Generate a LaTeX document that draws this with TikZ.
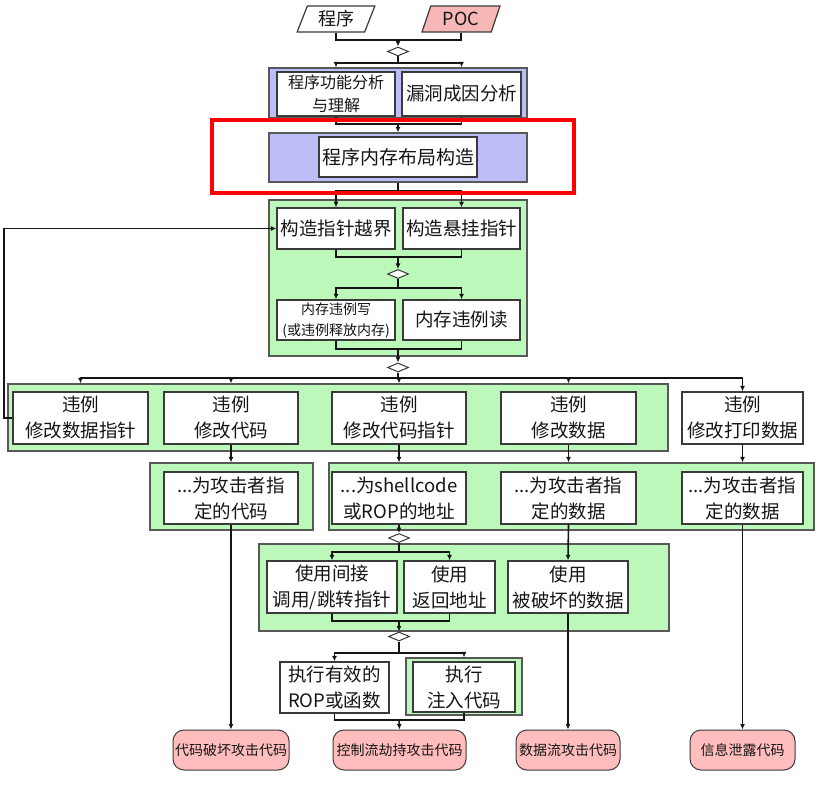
\documentclass[tikz,border=0pt]{standalone}
\usepackage{fontspec}
\setmainfont{Noto Sans CJK SC}
\usetikzlibrary{arrows.meta,shapes.geometric}
\definecolor{ink}{HTML}{151515}
\definecolor{edge}{HTML}{3A3A3A}
\definecolor{panelgreen}{HTML}{BCF8B9}
\definecolor{panelpurple}{HTML}{BDBDF8}
\definecolor{termpink}{HTML}{FFBDBD}
\definecolor{inpink}{HTML}{F7B7B7}
\definecolor{hlred}{HTML}{FF0000}
\tikzset{
  >={Latex[length=5.5pt,width=5pt]},
  every node/.style={text=ink},
  big/.style={font=\fontsize{18.5}{26}\selectfont},
  box/.style={draw=edge,line width=1.2pt,fill=white,align=center,inner sep=0pt,big},
  gpanel/.style={draw=edge!85,line width=1.2pt,fill=panelgreen,inner sep=0pt},
  ppanel/.style={gpanel,fill=panelpurple},
  term/.style={draw=edge,line width=1pt,fill=termpink,rounded corners=11pt,minimum height=40pt,inner sep=0pt,font=\fontsize{14}{16}\selectfont},
  iobox/.style={trapezium,trapezium left angle=69,trapezium right angle=111,trapezium stretches=true,draw=edge,line width=1.2pt,fill=white,minimum height=26pt,inner sep=0pt,font=\fontsize{18}{20}\selectfont},
  merge/.style={diamond,draw=edge,line width=1pt,fill=white,minimum width=21pt,minimum height=9pt,inner sep=0pt},
  link/.style={draw=ink,line width=1.6pt},
  arrow/.style={->,link},
  highlight/.style={draw=hlred,line width=4pt,minimum width=362pt,minimum height=73pt,inner sep=0pt},
}

\begin{document}
\begin{tikzpicture}[x=1pt,y=-1pt]
\useasboundingbox (0,0) rectangle (827,786);

\node[iobox,minimum width=78pt] (prog) at (336,19) {程序};
\node[iobox,minimum width=78pt,fill=inpink] (poc) at (461,19) {POC};
\node[merge] (d1) at (398,51.5) {};

\node[ppanel,minimum width=258pt,minimum height=50pt] (pp1) at (398,93) {};
\node[box,font=\fontsize{16}{23}\selectfont,minimum width=118pt,minimum height=44pt] (func) at (336,94) {程序功能分析\\与理解};
\node[box,minimum width=119pt,minimum height=44pt] (cause) at (461.5,94) {漏洞成因分析};

\node[ppanel,minimum width=258pt,minimum height=49pt] (pp2) at (398,157.5) {};
\node[box,font=\fontsize{19}{24}\selectfont,minimum width=158pt,minimum height=40pt] (layout) at (398,157) {程序内存布局构造};

\node[gpanel,minimum width=258pt,minimum height=156pt] (gp1) at (398,278) {};
\node[box,minimum width=118pt,minimum height=41pt] (ptrA) at (336,228.5) {构造指针越界};
\node[box,minimum width=117pt,minimum height=41pt] (ptrB) at (461.5,228.5) {构造悬挂指针};
\node[merge] (d2) at (398,274) {};
\node[box,font=\fontsize{14}{21}\selectfont,minimum width=118pt,minimum height=40pt] (wr) at (336,320) {内存违例写\\(或违例释放内存)};
\node[box,minimum width=117pt,minimum height=40pt] (rd) at (461.5,320) {内存违例读};
\node[merge] (d3) at (398,367.5) {};

\node[gpanel,minimum width=660pt,minimum height=67pt] (gp3) at (338,417.5) {};
\node[box,minimum width=135pt,minimum height=52pt] (v1) at (80.5,418) {违例\\修改数据指针};
\node[box,minimum width=134pt,minimum height=52pt] (v2) at (231,418) {违例\\修改代码};
\node[box,minimum width=134pt,minimum height=52pt] (v3) at (399,418) {违例\\修改代码指针};
\node[box,minimum width=135pt,minimum height=52pt] (v4) at (568.5,418) {违例\\修改数据};
\node[box,minimum width=121pt,minimum height=52pt] (v5) at (742.5,418) {违例\\修改打印数据};

\node[gpanel,minimum width=163pt,minimum height=67pt] (gp5) at (231.5,496.5) {};
\node[gpanel,minimum width=485pt,minimum height=67pt] (gp4) at (571.5,496.5) {};
\node[box,minimum width=134pt,minimum height=52pt] (c1) at (231,498) {...为攻击者指\\定的代码};
\node[box,minimum width=134pt,minimum height=52pt] (c2) at (399,498) {...为shellcode\\或ROP的地址};
\node[box,minimum width=135pt,minimum height=52pt] (c3) at (568.5,498) {...为攻击者指\\定的数据};
\node[box,minimum width=121pt,minimum height=52pt] (c4) at (742.5,498) {...为攻击者指\\定的数据};
\node[merge] (d4) at (399,538) {};

\node[gpanel,minimum width=410pt,minimum height=87pt] (gp6) at (464,587.5) {};
\node[box,minimum width=130pt,minimum height=52pt] (u1) at (332,587) {使用间接\\调用/跳转指针};
\node[box,minimum width=91pt,minimum height=52pt] (u2) at (449.5,587) {使用\\返回地址};
\node[box,minimum width=120pt,minimum height=52pt] (u3) at (568,587) {使用\\被破坏的数据};
\node[merge] (d5) at (399,636.5) {};

\node[box,minimum width=109pt,minimum height=51pt] (e1) at (334.5,687.5) {执行有效的\\ROP或函数};
\node[gpanel,minimum width=116pt,minimum height=57pt] (gp7) at (464,686.5) {};
\node[box,minimum width=102pt,minimum height=50pt] (e2) at (464,687) {执行\\注入代码};

\node[term,minimum width=116pt] (t1) at (231,750) {代码破坏攻击代码};
\node[term,minimum width=133pt] (t2) at (399.5,750) {控制流劫持攻击代码};
\node[term,minimum width=104pt] (t3) at (568,750) {数据流攻击代码};
\node[term,minimum width=105pt] (t4) at (742.5,750) {信息泄露代码};

\coordinate (m1) at (398,40);
\draw[link] (prog.south) |- (m1) -| (poc.south);
\draw[arrow] (m1) -- (d1.north);
\coordinate (s1) at (398,63);
\draw[link] (d1.south) -- (s1);
\draw[arrow] (s1) -| (func.north |- pp1.north);
\draw[arrow] (s1) -| (cause.north |- pp1.north);
\coordinate (j1) at (398,124);
\draw[link] (func.south) |- (j1) -| (cause.south);
\draw[arrow] (j1) -- (pp2.north);

\coordinate (s2) at (398,191);
\draw[link] (pp2.south) -- (s2);
\draw[arrow] (s2) -| (ptrA.north);
\draw[arrow] (s2) -| (ptrB.north);
\coordinate (j2) at (398,257);
\draw[link] (ptrA.south) |- (j2) -| (ptrB.south);
\draw[arrow] (j2) -- (d2.north);
\coordinate (s3) at (398,288);
\draw[link] (d2.south) -- (s3);
\draw[arrow] (s3) -| (wr.north);
\draw[arrow] (s3) -| (rd.north);
\coordinate (j3) at (398,349);
\draw[link] (wr.south) |- (j3) -| (rd.south);
\draw[arrow] (j3) -- (d3.north);

\coordinate (s4) at (398,378);
\draw[link] (d3.south) -- (s4);
\foreach \n in {v1,v2,v3,v4}
  \draw[arrow] (s4) -| (\n.north |- gp3.north);
\draw[arrow] (s4) -| (v5.north);
\coordinate (fb) at (4,228.5);
\draw[arrow] (v1.west) -| (fb) -- (ptrA.west);

\draw[arrow] (v2.south) -- (v2.south |- gp5.north);
\draw[arrow] (v3.south) -- (v3.south |- gp4.north);
\draw[arrow] (v4.south) -- (v4.south |- gp4.north);
\draw[arrow] (v5.south) -- (v5.south |- gp4.north);

\draw[arrow] (c1.south) -- (t1.north);
\draw[arrow] (c2.south) -- (d4.north);
\coordinate (s5) at (399,552);
\draw[link] (d4.south) -- (s5);
\draw[arrow] (s5) -| (u1.north);
\draw[arrow] (s5) -| (u2.north);
\draw[arrow] (c3.south) -- (u3.north);
\draw[arrow] (u3.south) -- (t3.north);
\draw[arrow] (c4.south) -- (t4.north);
\coordinate (j5) at (399,621);
\draw[link] (u1.south) |- (j5) -| (u2.south);
\draw[arrow] (j5) -- (d5.north);
\coordinate (s6) at (399,653);
\draw[link] (d5.south) -- (s6);
\draw[arrow] (s6) -| (e1.north);
\draw[arrow] (s6) -| (gp7.north);
\coordinate (j6) at (399,720);
\draw[link] (e1.south) |- (j6) -| (e2.south);
\draw[arrow] (j6) -- (t2.north);

\node[highlight] (hl) at (393,156.5) {};

\end{tikzpicture}
\end{document}
